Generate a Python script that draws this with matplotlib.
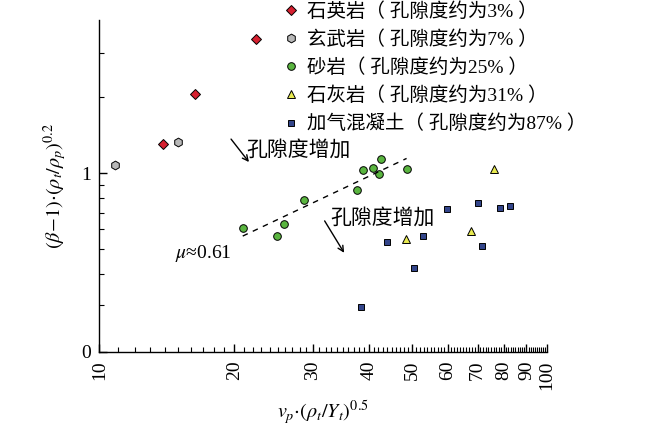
import matplotlib
matplotlib.use("Agg")
import matplotlib.pyplot as plt
from matplotlib.ticker import FixedLocator, NullFormatter, FixedFormatter

plt.rcParams['font.family'] = ['Liberation Serif', 'Noto Sans CJK SC', 'DejaVu Sans']
plt.rcParams['mathtext.fontset'] = 'stix'

# data
quartz_x = [13.87, 16.33, 22.37]
quartz_y = [1.306, 2.067, 3.40]
basalt_x = [10.82, 15.01]
basalt_y = [1.082, 1.334]
sand_x = [20.90, 24.96, 25.84, 28.60, 37.66, 38.85, 40.77, 42.05, 42.48, 48.56]
sand_y = [0.609, 0.565, 0.630, 0.784, 0.864, 1.031, 1.052, 0.996, 1.136, 1.040]
lime_x = [48.46, 67.55, 76.15]
lime_y = [0.549, 0.591, 1.043]
aac_x = [38.34, 43.95, 50.48, 52.79, 59.72, 70.15, 71.75, 78.55, 82.55]
aac_y = [0.2946, 0.533, 0.4205, 0.565, 0.724, 0.765, 0.514, 0.731, 0.744]
fit_x = [20.9, 48.56]
fit_y = [0.565, 1.147]

labels = ['石英岩（ 孔隙度约为3% ）', '玄武岩（ 孔隙度约为7% ）', '砂岩（ 孔隙度约为25% ）',
          '石灰岩（ 孔隙度约为31% ）', '加气混凝土（ 孔隙度约为87% ）']
xticks = [10, 20, 30, 40, 50, 60, 70, 80, 90, 100]
xticklabels = ['10', '20', '30', '40', '50', '60', '70', '80', '90', '100']

fig = plt.figure(figsize=(6.5, 4.28), dpi=100)
ax = fig.add_axes([0.153, 0.178, 0.8415 - 0.153, 0.953 - 0.178])
ax.set_xscale('log')
ax.set_yscale('log')
ax.set_xlim(10, 100)
ax.set_ylim(0.1966, 4.05)

ms = 5.5
ec = 'black'
ew = 0.7
h1, = ax.plot(quartz_x, quartz_y, 'D', ms=ms, mfc='#d62030', mec=ec, mew=ew, ls='none')
h2, = ax.plot(basalt_x, basalt_y, 'h', ms=ms + 0.8, mfc='#b8b8b8', mec=ec, mew=ew, ls='none')
h3, = ax.plot(sand_x, sand_y, 'o', ms=ms, mfc='#5ab540', mec=ec, mew=ew, ls='none')
h4, = ax.plot(lime_x, lime_y, '^', ms=ms + 0.5, mfc='#e8ea50', mec=ec, mew=ew, ls='none')
h5, = ax.plot(aac_x, aac_y, 's', ms=ms - 0.5, mfc='#33458a', mec=ec, mew=ew, ls='none')
ax.plot(fit_x, fit_y, ls=(0, (4, 4)), color='black', lw=1.0)

for s in ['top', 'right']:
    ax.spines[s].set_visible(False)
for s in ['left', 'bottom']:
    ax.spines[s].set_linewidth(1.0)

ax.xaxis.set_major_locator(FixedLocator(xticks))
ax.xaxis.set_major_formatter(FixedFormatter(xticklabels))
ax.xaxis.set_minor_locator(FixedLocator([v for v in range(11, 100) if v % 10 != 0]))
ax.xaxis.set_minor_formatter(NullFormatter())
ax.yaxis.set_major_locator(FixedLocator([0.1966, 1]))
ax.yaxis.set_major_formatter(FixedFormatter(['0', '1']))
ax.yaxis.set_minor_locator(FixedLocator([0.3, 0.4, 0.5, 0.6, 0.7, 0.8, 0.9, 2, 3]))
ax.yaxis.set_minor_formatter(NullFormatter())
ax.tick_params(which='major', direction='in', length=6, width=1, labelsize=14, pad=6)
ax.tick_params(which='minor', direction='in', length=3.5, width=0.8)
ax.tick_params(axis='x', which='major', labelrotation=90)

ax.set_xlabel(r'$v_p{\cdot}(\rho_t/Y_t)^{0.5}$', fontsize=14.5, labelpad=7)
ax.set_ylabel(r'$(\beta\!-\!1){\cdot}(\rho_t/\rho_p)^{0.2}$', fontsize=14.5, labelpad=9)

ax.annotate('', xy=(21.77, 1.088), xytext=(19.51, 1.396),
            arrowprops=dict(arrowstyle='->', lw=1.0, color='black'))
ax.text(21.3, 1.229, '孔隙度增加', fontsize=15, va='center', ha='left')
ax.annotate('', xy=(35.48, 0.4746), xytext=(31.62, 0.663),
            arrowprops=dict(arrowstyle='->', lw=1.0, color='black'))
ax.text(32.73, 0.663, '孔隙度增加', fontsize=15, va='center', ha='left')
ax.text(14.76, 0.4835, r'$\mu$≈0.61', fontsize=14, va='center', ha='left')

leg = fig.legend([h1, h2, h3, h4, h5], labels, loc='upper left',
                 bbox_to_anchor=(281 / 650, 1 - 2 / 428), frameon=False,
                 fontsize=14, handlelength=1.0, handletextpad=0.35,
                 labelspacing=0.49, borderpad=0.0, borderaxespad=0.0)

fig.savefig('out.png', dpi=100)
